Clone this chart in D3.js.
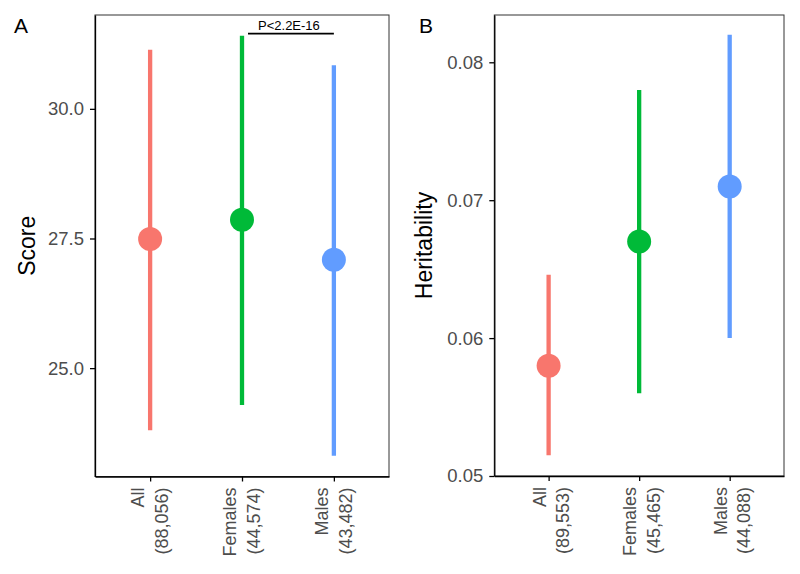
<!DOCTYPE html>
<html><head><meta charset="utf-8">
<script src="https://cdn.jsdelivr.net/npm/d3@7"></script>
<style>body{margin:0;background:#fff}svg{display:block}text{font-family:"Liberation Sans",Arial,sans-serif}</style>
</head><body>
<svg id="chart" width="800" height="574"></svg>
<script>
const groupsA = ["All", "Females", "Males"];
const nA = ["(88,056)", "(44,574)", "(43,482)"];
const scoreMean = [27.49, 27.86, 27.09];
const scoreLow = [23.80, 24.29, 23.31];
const scoreHigh = [31.14, 31.41, 30.84];
const scoreTicks = [25.0, 27.5, 30.0];
const scoreLimits = [22.91, 31.81];

const groupsB = ["All", "Females", "Males"];
const nB = ["(89,553)", "(45,465)", "(44,088)"];
const herMean = [0.058, 0.067, 0.071];
const herLow = [0.0515, 0.056, 0.060];
const herHigh = [0.0646, 0.078, 0.082];
const herTicks = [0.05, 0.06, 0.07, 0.08];
const herLimits = [0.05, 0.08343];

const colors = ["#F8766D", "#00BA38", "#619CFF"];
const pLabel = "P<2.2E-16";

const svg = d3.select("#chart");

function panel(opt) {
  const g = svg.append("g");
  const x = d3.scalePoint().domain(opt.groups).range([opt.left, opt.right]).padding(0.6);
  const y = d3.scaleLinear().domain(opt.limits).range([opt.bottom, opt.top]);

  g.append("rect").attr("x", opt.left).attr("y", opt.top)
    .attr("width", opt.right - opt.left).attr("height", opt.bottom - opt.top)
    .attr("fill", "none").attr("stroke", "#333").attr("stroke-width", 1);

  const ya = g.append("g").attr("transform", `translate(${opt.left},0)`)
    .call(d3.axisLeft(y).tickValues(opt.ticks).tickFormat(opt.fmt).tickSizeInner(5).tickSizeOuter(0).tickPadding(6));
  ya.select(".domain").attr("stroke", "#000").attr("stroke-width", 1.3);
  ya.selectAll(".tick line").attr("stroke", "#000").attr("stroke-width", 1.3);
  ya.selectAll(".tick text").attr("fill", "#4d4d4d").style("font-size", "18.5px");

  const xa = g.append("g").attr("transform", `translate(0,${opt.bottom})`)
    .call(d3.axisBottom(x).tickSizeInner(5).tickSizeOuter(0).tickFormat(""));
  xa.select(".domain").attr("stroke", "#000").attr("stroke-width", 1.3);
  xa.selectAll(".tick line").attr("stroke", "#000").attr("stroke-width", 1.3);

  opt.groups.forEach((c, i) => {
    const t = g.append("text")
      .attr("transform", `translate(${x(c) + opt.labShift},${opt.bottom + 11}) rotate(-90)`)
      .attr("text-anchor", "end").attr("fill", "#4d4d4d").style("font-size", "18px");
    t.append("tspan").attr("x", 0).attr("y", -11.7).attr("dominant-baseline", "central").text(c);
    t.append("tspan").attr("x", 0).attr("y", 11.7).attr("dominant-baseline", "central").text(opt.ns[i]);
  });

  g.selectAll("line.err").data(opt.groups).enter().append("line")
    .attr("x1", d => x(d)).attr("x2", d => x(d))
    .attr("y1", (d, i) => y(opt.low[i])).attr("y2", (d, i) => y(opt.high[i]))
    .attr("stroke", (d, i) => colors[i]).attr("stroke-width", 4.3);
  g.selectAll("circle.pt").data(opt.groups).enter().append("circle")
    .attr("cx", d => x(d)).attr("cy", (d, i) => y(opt.mean[i])).attr("r", 12)
    .attr("fill", (d, i) => colors[i]);

  g.append("text").attr("transform", `translate(${opt.titleX},${(opt.top + opt.bottom) / 2}) rotate(-90)`)
    .attr("text-anchor", "middle").attr("dominant-baseline", "central")
    .style("font-size", "23px").attr("fill", "#000").text(opt.title);
  g.append("text").attr("x", opt.tagX).attr("y", 33).style("font-size", "21px").attr("fill", "#000").text(opt.tag);
  return {x, y, g};
}

const A = panel({groups: groupsA, ns: nA, mean: scoreMean, low: scoreLow, high: scoreHigh,
  ticks: scoreTicks, limits: scoreLimits, fmt: d3.format(".1f"),
  left: 95, right: 389, top: 15, bottom: 476.5, title: "Score", titleX: 27, tag: "A", tagX: 14, labShift: 0});

const B = panel({groups: groupsB, ns: nB, mean: herMean, low: herLow, high: herHigh,
  ticks: herTicks, limits: herLimits, fmt: d3.format(".2f"),
  left: 494.3, right: 784, top: 15, bottom: 476, title: "Heritability", titleX: 424, tag: "B", tagX: 419, labShift: 3});

// significance bracket
const bx1 = A.x("Females") + 6, bx2 = A.x("Males");
const by = A.y(31.45);
A.g.append("line").attr("x1", bx1).attr("x2", bx2).attr("y1", by).attr("y2", by)
  .attr("stroke", "#000").attr("stroke-width", 1.6);
A.g.append("text").attr("x", (bx1 + bx2) / 2 - 2).attr("y", by - 4).attr("text-anchor", "middle")
  .style("font-size", "13px").attr("fill", "#000").text(pLabel);
</script>
</body></html>
